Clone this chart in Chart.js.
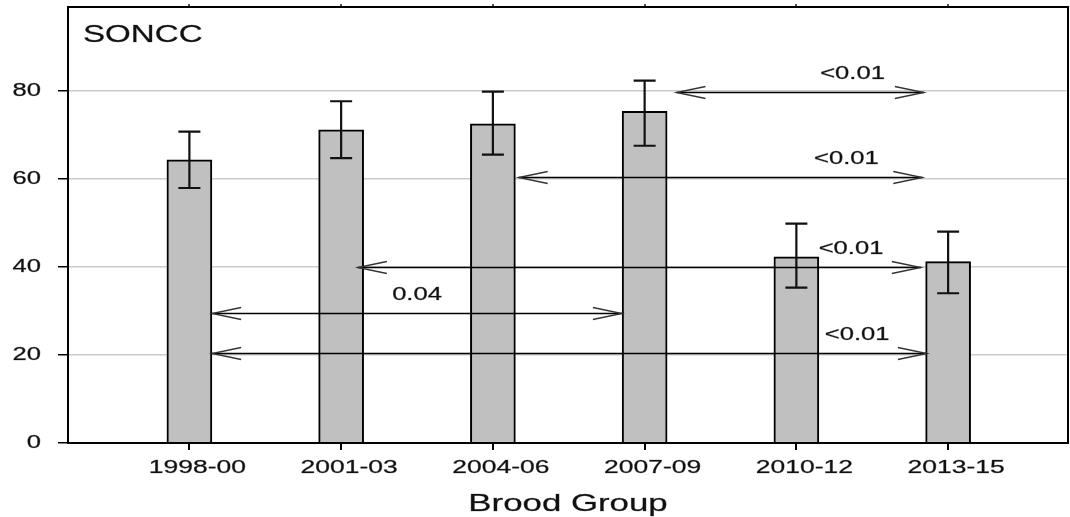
<!DOCTYPE html>
<html>
<head>
<meta charset="utf-8">
<script src="https://cdn.jsdelivr.net/npm/chart.js@4/dist/chart.umd.min.js"></script>
<style>
  html, body { margin: 0; padding: 0; background: #fff; }
  #wrap { width: 1070px; height: 517px; }
</style>
</head>
<body>
<div id="wrap"><canvas id="brood-graph"></canvas></div>
<script>
// brood groups and the means / interval ends
const groups = ['1998-00', '2001-03', '2004-06', '2007-09', '2010-12', '2013-15'];
const means = [64.3, 71.1, 72.5, 75.3, 42.3, 41.2];
const ciLow = [57.9, 64.7, 65.5, 67.5, 35.3, 34.0];
const ciHigh = [70.7, 77.6, 79.8, 82.3, 49.8, 48.0];
const yTicks = [0, 20, 40, 60, 80];

// pairwise comparisons (x in group index units, level in y units)
const cmpLevel = [79.8, 60.3, 40.0, 29.6, 20.5];
const cmpFrom = [3.21, 2.17, 1.11, 0.15, 0.15];
const cmpTo = [4.84, 4.83, 4.82, 2.85, 4.86];
const cmpText = ['<0.01', '<0.01', '<0.01', '0.04', '<0.01'];
const cmpTextX = [4.37, 4.33, 4.36, 1.50, 4.40];

const panelTitle = 'SONCC';
const xTitle = 'Brood Group';

const FONT = '"Liberation Sans", Arial, sans-serif';

// the source image is stretched sideways, so text is widened too
function wideText(ctx, str, x, y, align, size, sx) {
    ctx.save();
    ctx.font = size + 'px ' + FONT;
    ctx.fillStyle = '#111';
    ctx.strokeStyle = 'rgba(17,17,17,0.5)';
    ctx.lineWidth = 0.5;
    ctx.textBaseline = 'middle';
    ctx.textAlign = align;
    ctx.translate(x, y);
    ctx.scale(sx, 1);
    ctx.fillText(str, 0, 0);
    ctx.strokeText(str, 0, 0);
    ctx.restore();
}

const extras = {
    id: 'extras',
    afterDatasetsDraw(chart) {
        const ctx = chart.ctx;
        const xs = chart.scales.x;
        const ys = chart.scales.y;
        const area = chart.chartArea;

        // error bars
        ctx.save();
        ctx.strokeStyle = '#111';
        ctx.lineWidth = 2.2;
        for (let i = 0; i < groups.length; i++) {
            const cx = xs.getPixelForValue(i);
            const top = ys.getPixelForValue(ciHigh[i]);
            const bot = ys.getPixelForValue(ciLow[i]);
            ctx.beginPath();
            ctx.moveTo(cx, top); ctx.lineTo(cx, bot);
            ctx.moveTo(cx - 11, top); ctx.lineTo(cx + 11, top);
            ctx.moveTo(cx - 11, bot); ctx.lineTo(cx + 11, bot);
            ctx.stroke();
        }
        ctx.restore();

        // comparison arrows
        ctx.save();
        for (let i = 0; i < cmpLevel.length; i++) {
            const y = Math.round(ys.getPixelForValue(cmpLevel[i])) + 0.5;
            const x1 = xs.getPixelForValue(cmpFrom[i]);
            const x2 = xs.getPixelForValue(cmpTo[i]);
            ctx.strokeStyle = '#000';
            ctx.lineWidth = 1.7;
            ctx.beginPath();
            ctx.moveTo(x1, y); ctx.lineTo(x2, y);
            ctx.stroke();
            ctx.strokeStyle = '#333';
            ctx.lineWidth = 1.3;
            ctx.beginPath();
            ctx.moveTo(x1 + 29, y - 6); ctx.lineTo(x1, y); ctx.lineTo(x1 + 29, y + 6);
            ctx.moveTo(x2 - 29, y - 6); ctx.lineTo(x2, y); ctx.lineTo(x2 - 29, y + 6);
            ctx.stroke();
            wideText(ctx, cmpText[i], xs.getPixelForValue(cmpTextX[i]), y - 18, 'center', 18, 1.42);
        }
        ctx.restore();

        // frame
        ctx.save();
        ctx.strokeStyle = '#000';
        ctx.lineWidth = 2;
        ctx.strokeRect(area.left, area.top, area.right - area.left, area.bottom - area.top);
        ctx.restore();
    },
    afterDraw(chart) {
        const ctx = chart.ctx;
        const xs = chart.scales.x;
        const ys = chart.scales.y;
        const area = chart.chartArea;

        yTicks.forEach(v => {
            wideText(ctx, String(v), 41, ys.getPixelForValue(v), 'right', 18, 1.42);
        });
        groups.forEach((g, i) => {
            wideText(ctx, g, xs.getPixelForValue(i) + 8, 468, 'center', 18, 1.47);
        });
        wideText(ctx, xTitle, (area.left + area.right) / 2, 504, 'center', 24, 1.45);
        wideText(ctx, panelTitle, area.left + 15, 35, 'left', 24, 1.38);
    }
};

const ctx = document.getElementById('brood-graph').getContext('2d');

new Chart(ctx, {
    type: 'bar',
    data: {
        datasets: [{
            data: means.map((m, i) => ({ x: i, y: m })),
            backgroundColor: '#c0c0c0',
            borderColor: '#000',
            borderWidth: 2,
            borderSkipped: 'start',
            barThickness: 45
        }]
    },
    options: {
        responsive: true,
        maintainAspectRatio: false,
        animation: false,
        layout: { padding: { left: 0, right: 2, top: 0, bottom: 0 } },
        plugins: {
            legend: { display: false },
            tooltip: { enabled: false }
        },
        scales: {
            x: {
                type: 'linear',
                position: 'bottom',
                offset: false,
                min: -0.8,
                max: 5.79,
                afterBuildTicks: s => { s.ticks = groups.map((g, i) => ({ value: i })); },
                afterFit: s => { s.height = 74; },
                ticks: { display: false },
                border: { display: false },
                grid: {
                    offset: false,
                    drawOnChartArea: false,
                    drawTicks: true,
                    tickLength: 7,
                    tickColor: '#000',
                    lineWidth: 2
                }
            },
            x2: {
                type: 'linear',
                position: 'top',
                offset: false,
                min: -0.8,
                max: 5.79,
                afterBuildTicks: s => { s.ticks = groups.map((g, i) => ({ value: i })); },
                afterFit: s => { s.height = 7; },
                ticks: { display: false },
                border: { display: false },
                grid: {
                    offset: false,
                    drawOnChartArea: false,
                    drawTicks: true,
                    tickLength: 3,
                    tickColor: '#555',
                    lineWidth: 2
                }
            },
            y: {
                min: 0,
                max: 99,
                afterBuildTicks: s => { s.ticks = yTicks.map(v => ({ value: v })); },
                afterFit: s => { s.width = 68; },
                ticks: { display: false },
                border: { display: false },
                grid: {
                    color: '#cccccc',
                    lineWidth: 1.5,
                    drawTicks: true,
                    tickLength: 10,
                    tickColor: '#000'
                }
            }
        }
    },
    plugins: [extras]
});
</script>
</body>
</html>
